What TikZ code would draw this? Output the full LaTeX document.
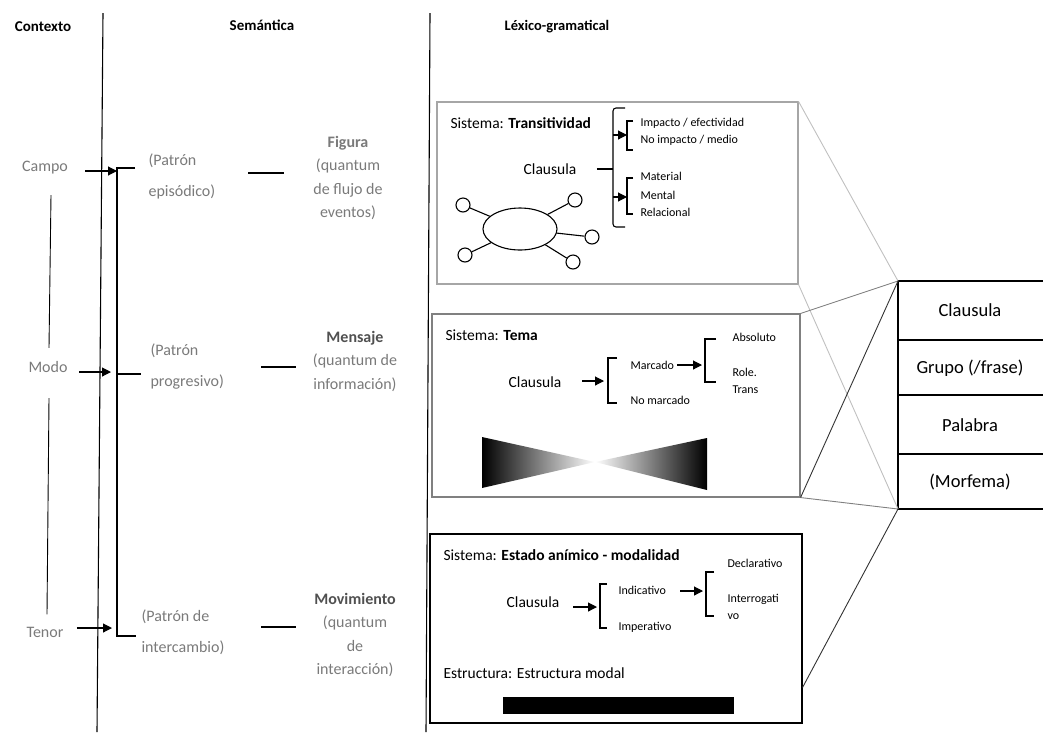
\documentclass[tikz,border=0pt]{standalone}
\usepackage{fontspec}
\setmainfont{Carlito}
\usetikzlibrary{arrows.meta, positioning, calc, shapes.geometric}
\definecolor{labelgray}{HTML}{7A7A7A}
\definecolor{darklabel}{HTML}{505050}
\definecolor{boxgray}{HTML}{A6A6A6}
\definecolor{linkgray}{HTML}{C0C0C0}

\begin{document}
\begin{tikzpicture}[x=1pt, y=-1pt, line width=1.1pt, every node/.style={inner sep=0pt},
  head/.style={font=\fontsize{15}{17}\selectfont\bfseries},
  strat/.style={font=\fontsize{16}{18}\selectfont, text=labelgray},
  patron/.style={font=\fontsize{16}{31}\selectfont, text=labelgray, align=left, anchor=west},
  sem/.style={font=\fontsize{16}{23.5}\selectfont, text=labelgray, align=center},
  sys/.style={font=\fontsize{15.5}{17}\selectfont, anchor=west},
  clau/.style={font=\fontsize{15.5}{17}\selectfont},
  opt/.style={font=\fontsize{12}{17}\selectfont, anchor=west, align=left},
  rank/.style={font=\fontsize{18.5}{20}\selectfont},
  tip/.style={-{Triangle[length=9pt,width=9pt]}},
  link/.style={line width=0.9pt}]
  \useasboundingbox (0,0) rectangle (1043,732);
  % --- column headers and dividers ---------------------------------
  \node[head] (contexto)  at (43,27)  {Contexto};
  \node[head] (semantica) at (262,25) {Semántica};
  \node[head, font=\fontsize{14.5}{17}\selectfont\bfseries] (lexico) at (557,27) {Léxico-gramatical};
  \draw (103,13) -- (97,732);
  \draw (430,13) -- (426,732);
  % --- context -------------------------------------------------------
  \node[strat] (campo) at (45,168) {Campo};
  \node[strat] (modo)  at (48,367) {Modo};
  \node[strat] (tenor) at (45,632) {Tenor};
  \draw[link] ($(campo.south)+(6,20)$) -- ($(modo.north)+(1,-13)$);
  \draw[link] ($(modo.south)+(1,25)$) -- ($(tenor.north)+(2,-12)$);
  % bracket that joins the three patterns
  \coordinate (brtop) at (117,168);
  \coordinate (brmid) at (117,374);
  \coordinate (brbot) at (117,636);
  \draw ($(brtop)+(18,0)$) -- (brtop) -- (brbot) -- ++(19,0);
  \draw (brmid) -- ++(24,0);
  \draw[tip] ($(campo.east)+(17,3)$) -- ($(brtop)+(0,3)$);
  \draw[tip] ($(modo.east)+(11,5)$) -- ($(brmid)+(-6,-2)$);
  \draw[tip] ($(tenor.east)+(13,-4)$) -- ($(brbot)+(-5,-8)$);
  % --- semantics -----------------------------------------------------
  \node[patron] (pepi)   at (148,176) {(Patrón\\episódico)};
  \node[patron] (pprog)  at (150,367) {(Patrón\\progresivo)};
  \node[patron] (pinter) at (141,632) {(Patrón de\\intercambio)};
  \node[sem] (figura) at (348,178) {\textbf{Figura}\\(quantum\\de flujo de\\eventos)};
  \node[sem] (mensaje) at (355,361) {\textcolor{darklabel}{\textbf{Mensaje}}\\(quantum de\\información)};
  \node[sem] (movim) at (355,635) {\textcolor{darklabel}{\textbf{Movimiento}}\\(quantum\\de\\interacción)};
  \draw (248,173) -- (284,173);
  \draw (261,367) -- (296,367);
  \draw (261,627) -- (296,627);
  % --- system boxes --------------------------------------------------
  \node[draw=boxgray, minimum width=361pt, minimum height=182pt] (trans) at (617.5,193) {};
  \node[draw=gray, minimum width=368pt, minimum height=183pt] (tema) at (616,405.5) {};
  \node[draw=black, minimum width=372pt, minimum height=189pt] (modal) at (616,628.5) {};
  % transitividad
  \node[sys] (sys1) at (450,123) {Sistema: \textbf{Transitividad}};
  \node[clau] (clau1) at (550,169) {Clausula};
  \draw ($(clau1.east)+(20,0)$) -- (613,169);
  \draw[rounded corners=3pt] (625,108) -- (613,108) -- (613,227) -- (625,227);
  \draw[tip] (613,135) -- (627,135);
  \draw (633,121) -- (627,121) -- (627,150) -- (633,150);
  \draw[tip] (613,197) -- (627,197);
  \draw (633,178) -- (627,178) -- (627,214) -- (633,214);
  \node[opt] (impacto)  at (640,123) {Impacto / efectividad};
  \node[opt] (noimp)    at (640,140) {No impacto / medio};
  \node[opt] (material) at (640,176) {Material};
  \node[opt] (mental)   at (640,195) {Mental};
  \node[opt] (relac)    at (640,212) {Relacional};
  \node[draw, ellipse, minimum width=74pt, minimum height=42pt] (hub) at (520,229) {};
  \foreach \i/\p in {1/{463,205}, 2/{575,200}, 3/{592,237}, 4/{573,262}, 5/{465,255}} {
    \node[draw, circle, minimum size=14pt] (leaf\i) at (\p) {};
    \draw (hub) -- (leaf\i);
  }
  % tema
  \node[sys] (sys2) at (445,335) {Sistema: \textbf{Tema}};
  \node[clau] (clau2) at (535,382) {Clausula};
  \draw[tip] (582,381) -- (604,381);
  \draw (617,358) -- (608,358) -- (608,403) -- (617,403);
  \node[opt] (marcado) at (630,365) {Marcado};
  \node[opt] (nomarc)  at (630,400) {No marcado};
  \draw[tip] ($(marcado.east)+(3,0)$) -- (702,365);
  \draw (716,339) -- (705,339) -- (705,382) -- (716,382);
  \node[opt] (absol) at (732,337) {Absoluto};
  \node[opt] (role)  at (732,381) {Role.\\Trans};
  \shade[left color=black, right color=white] (482,437) -- (595,462) -- (482,488) -- cycle;
  \shade[left color=white, right color=black] (707,438) -- (595,462) -- (707,490) -- cycle;
  % estado animico
  \node[sys] (sys3) at (443,555) {Sistema: \textbf{Estado anímico - modalidad}};
  \node[clau] (clau3) at (533,602) {Clausula};
  \draw[tip] (573,607) -- (597,607);
  \draw (607,584) -- (600,584) -- (600,628) -- (607,628);
  \node[opt] (indic) at (618,590) {Indicativo};
  \node[opt] (imper) at (618,627) {Imperativo};
  \draw[tip] (680,591) -- (703,591);
  \draw (714,572) -- (706,572) -- (706,616) -- (714,616);
  \node[opt] (decl)   at (727,563) {Declarativo};
  \node[opt] (interr) at (727,607) {Interrogati\\vo};
  \node[sys] (estr) at (443,673) {Estructura: Estructura modal};
  \fill (503,697) rectangle (734,714);
  % --- rank scale ----------------------------------------------------
  \coordinate (stacktl) at (898,281);
  \coordinate (stackbl) at (898,509);
  \draw (1043,281) -- (stacktl) -- (stackbl) -- (1043,509);
  \foreach \y in {340, 395, 454} \draw (898,\y) -- (1043,\y);
  \node[rank] (rclau)  at (970,310) {Clausula};
  \node[rank] (rgrupo) at (970,368) {Grupo (/frase)};
  \node[rank] (rpal)   at (970,425) {Palabra};
  \node[rank] (rmorf)  at (970,482) {(Morfema)};
  % links from the boxes to the scale
  \draw[link, linkgray] (trans.north east) -- (stacktl);
  \draw[link, linkgray] (trans.south east) -- (stackbl);
  \draw[link, gray] (tema.north east) -- (stacktl);
  \draw[link, black!80] (tema.south east) -- (stacktl);
  \draw[link, gray] (tema.south east) -- (stackbl);
  \draw[link, black!80] (stackbl) -- ($(modal.north east)+(0,154)$);
\end{tikzpicture}
\end{document}
